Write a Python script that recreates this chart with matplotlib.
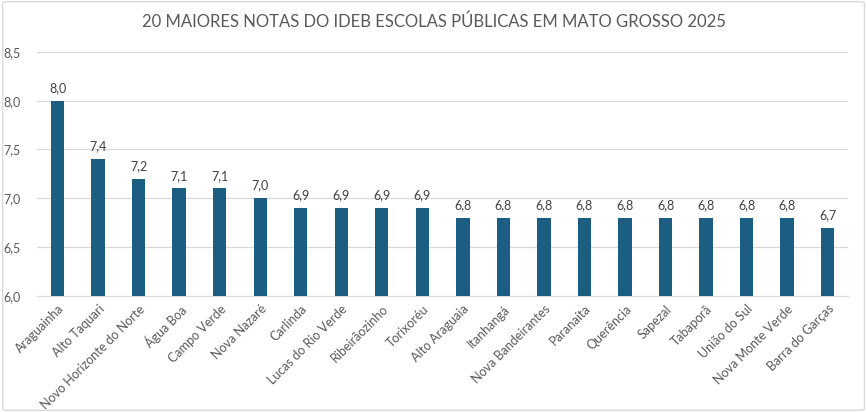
import matplotlib
matplotlib.use("Agg")
import matplotlib.pyplot as plt
from matplotlib.patches import FancyBboxPatch

# dados
municipios = ["Araguainha", "Alto Taquari", "Novo Horizonte do Norte", "Água Boa",
              "Campo Verde", "Nova Nazaré", "Carlinda", "Lucas do Rio Verde",
              "Ribeirãozinho", "Torixoréu", "Alto Araguaia", "Itanhangá",
              "Nova Bandeirantes", "Paranaíta", "Querência", "Sapezal",
              "Tabaporã", "União do Sul", "Nova Monte Verde", "Barra do Garças"]
notas = [8.0, 7.4, 7.2, 7.1, 7.1, 7.0, 6.9, 6.9, 6.9, 6.9,
         6.8, 6.8, 6.8, 6.8, 6.8, 6.8, 6.8, 6.8, 6.8, 6.7]
yticks = [6.0, 6.5, 7.0, 7.5, 8.0, 8.5]

plt.rcParams['font.family'] = ['Lato', 'DejaVu Sans']
txt = '#595959'
bar_color = '#1B5E82'

fig = plt.figure(figsize=(8.67, 4.12), dpi=100)
ax = fig.add_axes([0.043, 0.282, 0.935, 0.592])

x = range(len(municipios))
ax.bar(x, notas, width=0.33, color=bar_color, zorder=3)
for i, v in zip(x, notas):
    ax.text(i, v + 0.07, f"{v:.1f}".replace('.', ','), ha='center', va='bottom',
            fontsize=9, color='#404040')

ax.set_ylim(6.0, 8.5)
ax.set_xlim(-0.5, len(municipios) - 0.5)
ax.set_yticks(yticks)
ax.set_yticklabels([f"{t:.1f}".replace('.', ',') for t in yticks], fontsize=9, color=txt)
ax.set_xticks(list(x))
ax.set_xticklabels(municipios, rotation=45, ha='right', rotation_mode='anchor',
                   fontsize=9, color=txt)
ax.tick_params(axis='both', length=0)
ax.tick_params(axis='y', pad=12)
ax.tick_params(axis='x', pad=5)
ax.grid(axis='y', color='#D9D9D9', linewidth=0.9, zorder=0)
for s in ['top', 'right', 'left']:
    ax.spines[s].set_visible(False)
ax.spines['bottom'].set_color('#D9D9D9')

fig.text(0.5, 0.948, "20 MAIORES NOTAS DO IDEB ESCOLAS PÚBLICAS EM MATO GROSSO 2025",
         ha='center', va='center', fontsize=12, color=txt)

border = FancyBboxPatch((0.003, 0.004), 0.994, 0.992, boxstyle="round,pad=0,rounding_size=0.005",
                        transform=fig.transFigure, fill=False, edgecolor='#D9D9D9', linewidth=1)
fig.patches.append(border)

fig.savefig("out.png", dpi=100)
